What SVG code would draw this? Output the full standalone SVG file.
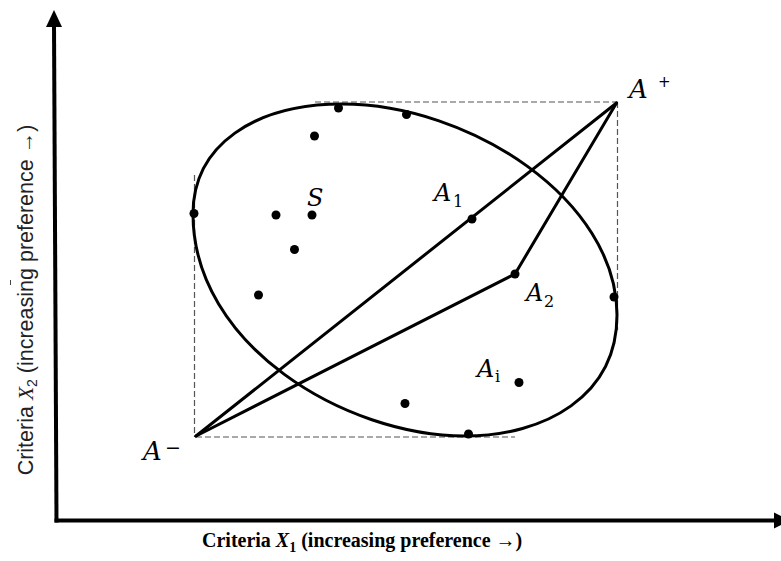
<svg xmlns="http://www.w3.org/2000/svg" width="781" height="561" viewBox="0 0 781 561">
<style>
.lbl{font-family:"DejaVu Serif","Liberation Serif",serif;font-style:italic;font-size:24px;fill:#000}
.big{font-size:26px}
.sub{font-family:"DejaVu Serif","Liberation Serif",serif;font-style:normal;font-size:16px}
.sup{font-family:"DejaVu Sans","Liberation Sans",sans-serif;font-style:normal}
.dot{fill:#000}
.edge{stroke:#000;stroke-width:3;fill:none;stroke-linecap:round}
.dash{stroke:#555;stroke-width:1.2;stroke-dasharray:6 3;fill:none}
.axis{stroke:#000;stroke-width:4;fill:none}
</style>
<rect width="781" height="561" fill="#fff"/>
<g id="axes">
<line class="axis" x1="56.5" y1="522.5" x2="54" y2="24"/>
<polygon points="54,10 46,27 62,27" fill="#000"/>
<line class="axis" x1="54.5" y1="520.5" x2="778" y2="520.5"/>
<polygon points="774,512.5 790,520.5 774,528.5" fill="#000"/>
</g>
<g id="bounds">
<line class="dash" x1="315" y1="102" x2="617.5" y2="102"/>
<line class="dash" x1="617.5" y1="102" x2="617.5" y2="330"/>
<line class="dash" x1="194.5" y1="175" x2="194.5" y2="437"/>
<line class="dash" x1="196" y1="437" x2="515" y2="437"/>
</g>
<g id="region-S">
<path class="edge" d="M193,214 C193,145 255,104 342,104 C470,104 617,200 617,315 C617,396 545,436 465,436 C345,436 193,345 193,214 Z"/>
</g>
<g id="connectors">
<line class="edge" x1="196" y1="436" x2="616.5" y2="103"/>
<line class="edge" x1="196" y1="436" x2="515" y2="274"/>
<line class="edge" x1="515" y1="274" x2="616.5" y2="103"/>
</g>
<g id="points">
<circle class="dot" cx="338.5" cy="108" r="4.5"/>
<circle class="dot" cx="406.5" cy="114.5" r="4.5"/>
<circle class="dot" cx="314.5" cy="136" r="4.5"/>
<circle class="dot" cx="194" cy="213.5" r="4.5"/>
<circle class="dot" cx="276" cy="215" r="4.5"/>
<circle class="dot" cx="312" cy="215" r="4.5"/>
<circle class="dot" cx="294.5" cy="249.5" r="4.5"/>
<circle class="dot" cx="258.5" cy="295" r="4.5"/>
<circle class="dot" cx="614" cy="297" r="4.5"/>
<circle class="dot" cx="405" cy="403.5" r="4.5"/>
<circle class="dot" cx="468.5" cy="434" r="4.5"/>
</g>
<g id="node-Aplus">
<text class="lbl big" x="629" y="98">A<tspan class="sup" x="658" y="87" font-size="15">+</tspan></text>
</g>
<g id="node-Aminus">
<text class="lbl big" x="143" y="460">A<tspan class="sup" x="165" y="454" font-size="19">−</tspan></text>
</g>
<g id="node-A1">
<circle class="dot" cx="472" cy="219" r="4.5"/>
<text class="lbl" x="434" y="201">A<tspan class="sub" x="453" y="207">1</tspan></text>
</g>
<g id="node-A2">
<circle class="dot" cx="515" cy="274" r="4.5"/>
<text class="lbl" x="526" y="301">A<tspan class="sub" x="544" y="307">2</tspan></text>
</g>
<g id="node-Ai">
<circle class="dot" cx="519" cy="382.5" r="4.5"/>
<text class="lbl" x="477" y="377">A<tspan class="sub" x="495" y="382" font-style="italic">i</tspan></text>
</g>
<g id="node-S">
<text class="lbl" x="307" y="206">S</text>
</g>
<g id="labels">
<text font-family="Liberation Serif,serif" font-weight="bold" font-size="20" x="202" y="547">Criteria <tspan font-style="italic">X</tspan><tspan font-size="14" dy="5">1</tspan><tspan dy="-5"> (increasing preference →)</tspan></text>
<text font-family="Liberation Sans,Arial,sans-serif" font-size="21.5" fill="#222" text-anchor="middle" transform="translate(33,300) rotate(-90)">Criteria <tspan font-family="Liberation Serif,serif" font-style="italic">X</tspan><tspan font-size="14" dy="4">2</tspan><tspan dy="-4"> (increasing preference →)</tspan></text>
<line x1="10.5" y1="280" x2="10.5" y2="285" stroke="#444" stroke-width="1"/>
</g>
</svg>
